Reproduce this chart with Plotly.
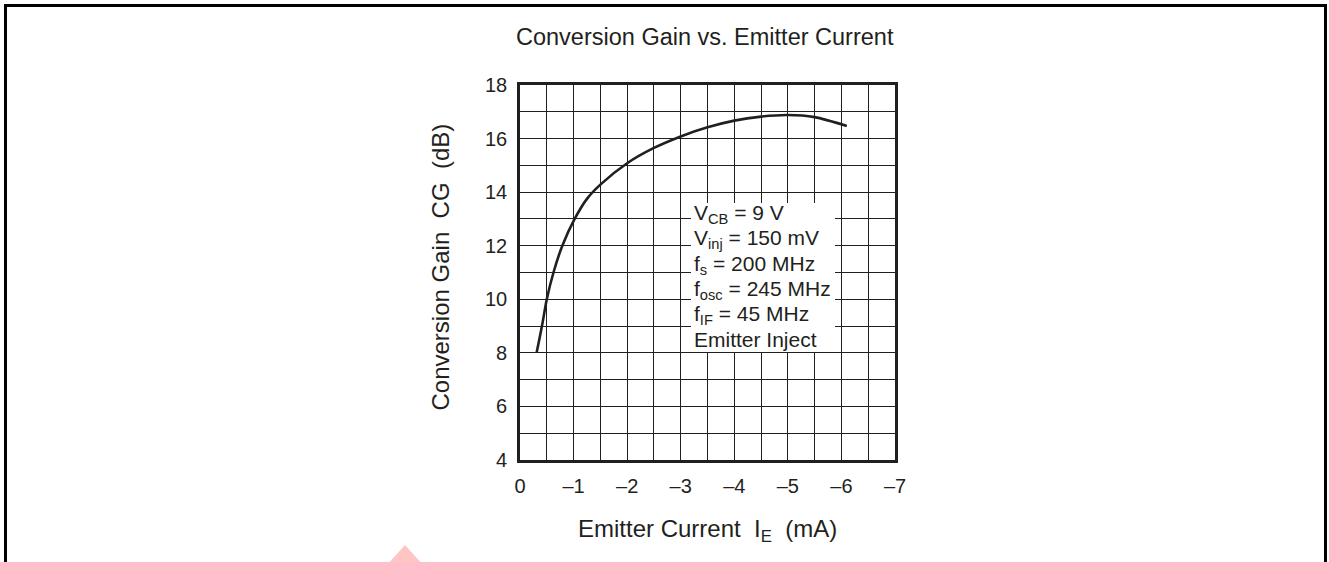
import plotly.graph_objects as go

# ---- data ----
emitter_current = [-0.31, -0.41, -0.50, -0.625, -0.79, -1.02, -1.25, -1.5, -2.0,
                   -2.5, -3.0, -3.5, -4.0, -4.5, -5.0, -5.5, -6.1]
conversion_gain = [8.0, 9.0, 10.0, 11.0, 12.0, 13.0, 13.75, 14.28, 15.08,
                   15.65, 16.08, 16.42, 16.67, 16.82, 16.88, 16.8, 16.47]
x_tick_vals = [0, -1, -2, -3, -4, -5, -6, -7]
x_tick_text = ["0", "\u20131", "\u20132", "\u20133", "\u20134", "\u20135", "\u20136", "\u20137"]
y_tick_vals = [4, 6, 8, 10, 12, 14, 16, 18]
conditions = ["V<sub>CB</sub> = 9 V", "V<sub>inj</sub> = 150 mV", "f<sub>s</sub> = 200 MHz",
              "f<sub>osc</sub> = 245 MHz", "f<sub>IF</sub> = 45 MHz", "Emitter Inject"]

W, H = 1329, 562
L, R, T, B = 520, 895, 85, 460  # plot area in pixels
TXT = "#231f20"
FONT = "Liberation Sans, Arial, Helvetica, sans-serif"

def px(x):
    return (x - L) / (R - L)

def py(y):
    return (B - y) / (B - T)

fig = go.Figure()
fig.add_trace(go.Scatter(x=emitter_current, y=conversion_gain, mode="lines",
                         line=dict(color="#231f20", width=2.6, shape="spline", smoothing=0.8),
                         hoverinfo="skip", showlegend=False))

axis_common = dict(showline=True, linecolor="#231f20", linewidth=2.6, mirror=True,
                   showgrid=True, gridcolor="#231f20", gridwidth=1, zeroline=False,
                   ticks="", tickfont=dict(size=20, color=TXT, family=FONT))
fig.update_xaxes(range=[0, -7], tickvals=x_tick_vals, ticktext=x_tick_text,
                 minor=dict(dtick=0.5, showgrid=True, gridcolor="#231f20", gridwidth=1),
                 ticklabelstandoff=6, **axis_common)
fig.update_yaxes(range=[4, 18], tickvals=y_tick_vals,
                 minor=dict(dtick=1, showgrid=True, gridcolor="#231f20", gridwidth=1),
                 ticklabelstandoff=6, **axis_common)

shapes = []
# white box behind conditions text
shapes.append(dict(type="rect", xref="paper", yref="paper",
                   x0=px(691), x1=px(835), y0=py(352), y1=py(203),
                   fillcolor="white", line=dict(width=0), layer="above"))
# outer frame
shapes.append(dict(type="rect", xref="paper", yref="paper",
                   x0=px(5.5), x1=px(1325.5), y0=py(575), y1=py(5.5),
                   fillcolor="rgba(0,0,0,0)", line=dict(color="black", width=3), layer="above"))
# pink watermark corner
shapes.append(dict(type="path", xref="paper", yref="paper",
                   path=f"M {px(386)},{py(566)} L {px(405)},{py(545)} L {px(424)},{py(566)} Z",
                   fillcolor="#ffc4c4", line=dict(width=0), layer="above"))

annotations = []
baselines = [221.5, 246.8, 272.0, 297.4, 322.7, 347.0]
for txt, bl in zip(conditions, baselines):
    annotations.append(dict(text=txt, xref="paper", yref="paper", x=px(692), y=py(bl - 7.5),
                            xanchor="left", yanchor="middle", showarrow=False,
                            font=dict(size=21, color=TXT, family=FONT)))
# title
annotations.append(dict(text="Conversion Gain vs. Emitter Current", xref="paper", yref="paper",
                        x=px(705), y=py(37), xanchor="center", yanchor="middle", showarrow=False,
                        font=dict(size=23.5, color=TXT, family=FONT)))
# x title
annotations.append(dict(text="Emitter Current  I<sub>E</sub>  (mA)", xref="paper", yref="paper",
                        x=px(707.5), y=py(530), xanchor="center", yanchor="middle", showarrow=False,
                        font=dict(size=24, color=TXT, family=FONT)))
# y title
annotations.append(dict(text="Conversion Gain  CG  (dB)", xref="paper", yref="paper",
                        x=px(440), y=py(267.5), xanchor="center", yanchor="middle", showarrow=False,
                        textangle=-90, font=dict(size=24, color=TXT, family=FONT)))

fig.update_layout(width=W, height=H, margin=dict(l=L, r=W - R, t=T, b=H - B),
                  paper_bgcolor="white", plot_bgcolor="white",
                  shapes=shapes, annotations=annotations,
                  font=dict(family=FONT, color=TXT))

fig.write_html("out.html", config={"displayModeBar": False},
               post_script="document.body.style.margin='0';document.body.style.overflow='hidden';")
